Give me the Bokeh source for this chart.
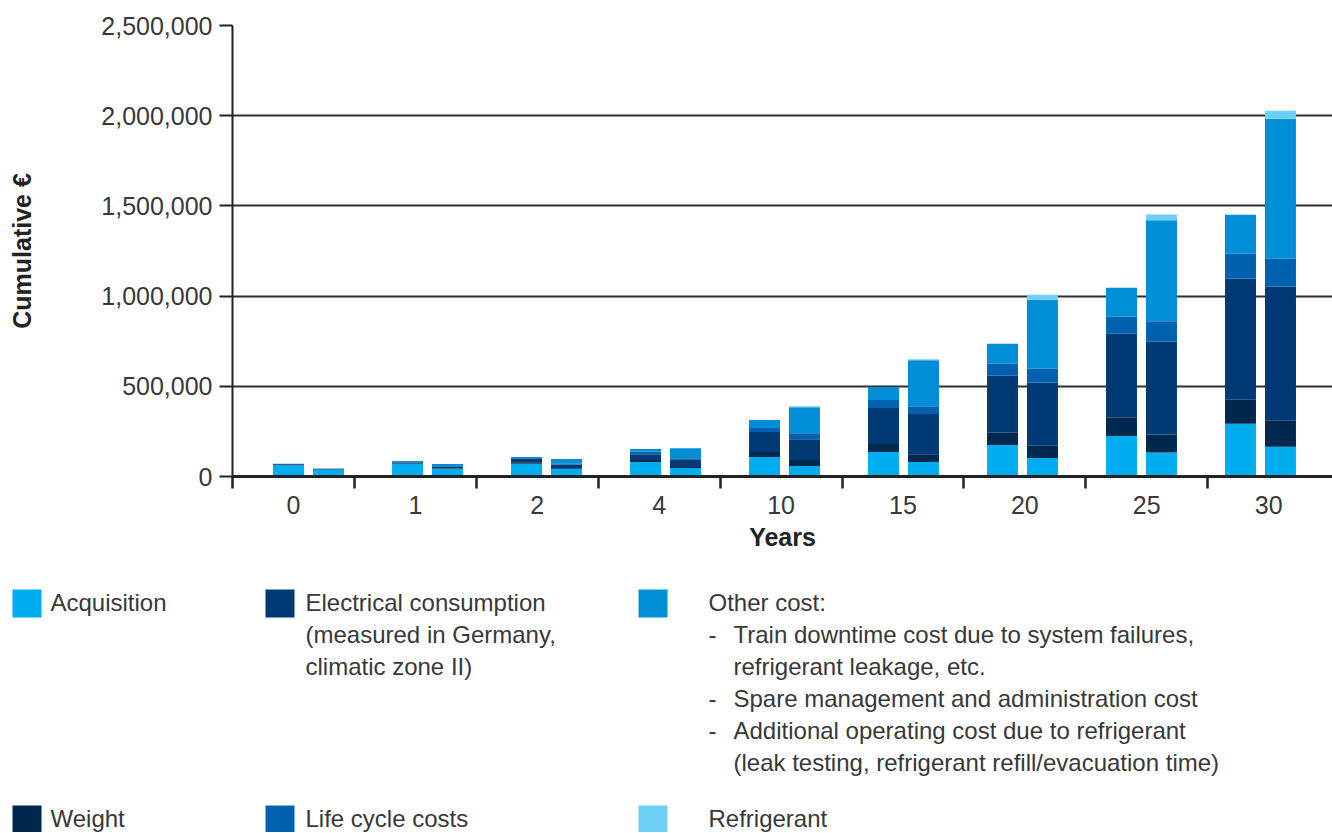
import numpy as np
from bokeh.plotting import figure
from bokeh.models import Range1d, FixedTicker, NumeralTickFormatter, ColumnDataSource
from bokeh.embed import file_html
from bokeh.resources import INLINE
from bokeh.core.properties import value

# ---------------- data ----------------
years = ["0", "1", "2", "4", "10", "15", "20", "25", "30"]
stack_keys = ["acq", "weight", "elec", "lcc", "other", "refr"]
colors = ["#00AEEF", "#00284F", "#003A75", "#0062AE", "#008ED6", "#6DCFF6"]

# first bar of each pair
acq_a = [63000, 69000, 71000, 80000, 108000, 136000, 175000, 225000, 292000]
weight_a = [2000, 3000, 8000, 11000, 28000, 44000, 67000, 100000, 133000]
elec_a = [4000, 6000, 20000, 33000, 111000, 200000, 316000, 466000, 671000]
lcc_a = [0, 2000, 3000, 13000, 22000, 44000, 67000, 94000, 139000]
other_a = [1000, 6000, 6000, 15000, 44000, 72000, 111000, 161000, 216000]
refr_a = [0, 0, 0, 0, 0, 0, 0, 0, 0]

# second bar of each pair
acq_b = [37000, 42000, 43000, 47000, 58000, 80000, 103000, 133000, 165000]
weight_b = [2000, 3000, 4000, 5000, 33000, 44000, 67000, 100000, 144000]
elec_b = [3000, 10000, 20000, 44000, 116000, 222000, 349000, 516000, 743000]
lcc_b = [1000, 3000, 4000, 5000, 33000, 44000, 78000, 111000, 155000]
other_b = [1000, 11000, 26000, 55000, 144000, 255000, 383000, 560000, 776000]
refr_b = [0, 0, 0, 0, 5000, 5000, 28000, 33000, 44000]

y_ticks = [0, 500000, 1000000, 1500000, 2000000, 2500000]

legend_items = [
    ("Acquisition", ["Acquisition"]),
    ("Electrical consumption", ["Electrical consumption", "(measured in Germany,", "climatic zone II)"]),
    ("Other cost", ["Other cost:", "- Train downtime cost due to system failures,", "  refrigerant leakage, etc.",
                    "- Spare management and administration cost",
                    "- Additional operating cost due to refrigerant",
                    "  (leak testing, refrigerant refill/evacuation time)"]),
    ("Weight", ["Weight"]),
    ("Life cycle costs", ["Life cycle costs"]),
    ("Refrigerant", ["Refrigerant"]),
]
legend_colors = ["#00AEEF", "#003A75", "#008ED6", "#00284F", "#0062AE", "#6DCFF6"]

# ---------------- layout ----------------
FONT = "Liberation Sans"
TXT = "#383838"
W = 1332
H_MAIN = 568
H_LEG = 264
n = len(years)
GROUP_PX = 121.9
FRAME_L = 232

p = figure(width=W, height=H_MAIN, x_range=Range1d(0, (W - FRAME_L) / GROUP_PX), y_range=Range1d(0, 2500000),
           output_backend="svg", toolbar_location=None,
           min_border_left=FRAME_L, min_border_right=0, min_border_top=25, min_border_bottom=92)
p.outline_line_color = None
p.background_fill_color = "white"
p.xgrid.visible = False
p.ygrid.ticker = FixedTicker(ticks=y_ticks[1:])
p.ygrid.grid_line_color = "#2f2f2f"
p.ygrid.grid_line_width = 2

centers = [0.6235 + 0.9762 * i for i in range(n)]
src_a = ColumnDataSource(dict(x=[c - 0.164 for c in centers], acq=acq_a, weight=weight_a, elec=elec_a,
                              lcc=lcc_a, other=other_a, refr=refr_a))
src_b = ColumnDataSource(dict(x=[c + 0.164 for c in centers], acq=acq_b, weight=weight_b, elec=elec_b,
                              lcc=lcc_b, other=other_b, refr=refr_b))
p.vbar_stack(stack_keys, x="x", width=0.254, color=colors, line_width=0, source=src_a)
p.vbar_stack(stack_keys, x="x", width=0.254, color=colors, line_width=0, source=src_b)

# y axis
ya = p.yaxis[0]
ya.ticker = FixedTicker(ticks=y_ticks)
ya.formatter = NumeralTickFormatter(format="0,0")
ya.major_tick_out = 13
ya.major_tick_in = 0
ya.minor_tick_out = 0
ya.minor_tick_in = 0
ya.major_tick_line_width = 2
ya.major_tick_line_color = "#222222"
ya.axis_line_width = 2
ya.axis_line_color = "#222222"
ya.major_label_text_font = FONT
ya.major_label_text_font_size = "25px"
ya.major_label_text_color = TXT
ya.major_label_standoff = 7
ya.axis_label = "Cumulative €"
ya.axis_label_text_font = FONT
ya.axis_label_text_font_size = "25px"
ya.axis_label_text_font_style = "bold"
ya.axis_label_text_color = "#222222"
ya.axis_label_standoff = 62

# x axis
xa = p.xaxis[0]
xa.ticker = FixedTicker(ticks=[i + 0.5 for i in range(n)], minor_ticks=list(range(n)))
xa.major_label_overrides = {i + 0.5: y for i, y in enumerate(years)}
xa.major_tick_out = 0
xa.major_tick_in = 0
xa.minor_tick_out = 12
xa.minor_tick_in = 0
xa.minor_tick_line_width = 2.5
xa.minor_tick_line_color = "#222222"
xa.axis_line_width = 3
xa.axis_line_color = "#222222"
xa.major_label_text_font = FONT
xa.major_label_text_font_size = "25px"
xa.major_label_text_color = TXT
xa.major_label_standoff = 7
xa.axis_label = "Years"
xa.axis_label_text_font = FONT
xa.axis_label_text_font_size = "25px"
xa.axis_label_text_font_style = "bold"
xa.axis_label_text_color = "#222222"
xa.axis_label_standoff = 6

# ---------------- legend (separate root, pixel-mapped) ----------------
top = H_MAIN
leg = figure(width=W, height=H_LEG, x_range=Range1d(0, W), y_range=Range1d(top + H_LEG, top),
             output_backend="svg", toolbar_location=None, x_axis_location=None, y_axis_location=None,
             min_border=0, min_border_left=0, min_border_right=0, min_border_top=0, min_border_bottom=0)
leg.grid.visible = False
leg.outline_line_color = None

sq_x = [12, 265, 638]
tx_x = [50, 305, 708]
row_top = [589, 805]
sq_w, sq_h = 29, 28
line_h = 32

qs = dict(left=[], right=[], top=[], bottom=[], color=[])
ts = dict(x=[], y=[], text=[])
for k, (name, lines) in enumerate(legend_items):
    r, c = divmod(k, 3)
    t0 = row_top[r]
    qs["left"].append(sq_x[c]); qs["right"].append(sq_x[c] + sq_w)
    qs["top"].append(t0); qs["bottom"].append(t0 + sq_h)
    qs["color"].append(legend_colors[k])
    for j, ln in enumerate(lines):
        yy = t0 + 13 + j * line_h
        if ln.startswith("- "):
            ts["x"].append(tx_x[c]); ts["y"].append(yy); ts["text"].append("-")
            ts["x"].append(tx_x[c] + 25); ts["y"].append(yy); ts["text"].append(ln[2:])
        elif ln.startswith("  "):
            ts["x"].append(tx_x[c] + 25); ts["y"].append(yy); ts["text"].append(ln.strip())
        else:
            ts["x"].append(tx_x[c]); ts["y"].append(yy); ts["text"].append(ln)

leg.quad(left="left", right="right", top="top", bottom="bottom", color="color", line_width=0,
         source=ColumnDataSource(qs))
leg.text(x="x", y="y", text="text", source=ColumnDataSource(ts), text_font=value(FONT),
         text_font_size="24px", text_color=TXT, text_baseline="middle", text_align="left")

open("out.html", "w").write(file_html([p, leg], INLINE))
